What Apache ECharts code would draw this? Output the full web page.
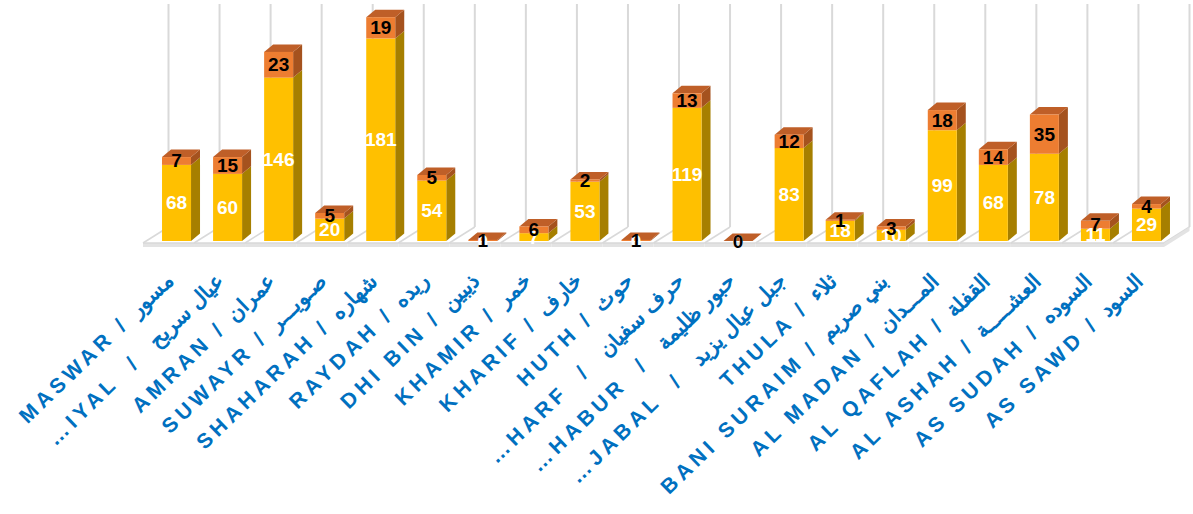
<!DOCTYPE html>
<html><head><meta charset="utf-8">
<script src="https://cdn.jsdelivr.net/npm/echarts@6/dist/echarts.min.js"></script>
<style>
html,body{margin:0;padding:0;background:#fff}
#c{width:1193px;height:514px}
#c svg text[fill="#0070C0"], #c svg text[fill="#0070c0"], #c svg text[style*="21px"]{letter-spacing:4.5px}
</style>
</head><body><div id="c"></div>
<script>
const categories = [
  "MASWAR / مسور",
  "…IYAL  /  عيال سريح",
  "AMRAN / عمران",
  "SUWAYR / صـويـــر",
  "SHAHARAH / شهاره",
  "RAYDAH / ريده",
  "DHI BIN / ذيبين",
  "KHAMIR / خمر",
  "KHARIF / خارف",
  "HUTH / حوث",
  "…HARF  /  حرف سفيان",
  "…HABUR  /  حبور ظليمة",
  "…JABAL  /  جبل عيال يزيد",
  "THULA / ثلاء",
  "BANI SURAIM / بني صريم",
  "AL MADAN / المـــدان",
  "AL QAFLAH / القفلة",
  "AL ASHAH / العشـــــة",
  "AS SUDAH / السوده",
  "AS SAWD / السود"
];
const yellowValues = [68, 60, 146, 20, 181, 54, 0, 7, 53, 0, 119, 0, 83, 18, 10, 99, 68, 78, 11, 29];
const orangeValues = [7, 15, 23, 5, 19, 5, 1, 6, 2, 1, 13, 0, 12, 1, 3, 18, 14, 35, 7, 4];

const BW = 29, DX = 9, DY = -7.5;
const C = {
  yFront: '#FFC000', ySide: '#A67F00',
  oFront: '#ED7D31', oSide: '#A5521E', oTop: '#BF5F28',
  grid: '#D9D9D9', floorEdge: '#E3E3E3'
};
const chart = echarts.init(document.getElementById('c'), null, {renderer: 'svg'});
const idx = categories.map((_, i) => i);

function renderFloor(params, api) {
  const i = api.value(0);
  const w = api.size([1, 0])[0];
  const c = api.coord([i, 0]);
  const top = params.coordSys.y - 2;
  const children = [];
  const bounds = [c[0] - w / 2];
  if (i === categories.length - 1) bounds.push(c[0] + w / 2);
  const y0 = c[1];
  const xl = c[0] - w / 2, xr = c[0] + w / 2;
  children.push({type: 'polygon', shape: {points: [[xl - 8, y0 + 2], [xr - 8, y0 + 2], [xr + 17.5, y0 - 14], [xl + 17.5, y0 - 14]]}, style: {fill: '#fff'}});
  children.push({type: 'polygon', shape: {points: [[xl - 8, y0 + 2], [xr - 8, y0 + 2], [xr - 8, y0 + 6], [xl - 8, y0 + 6]]}, style: {fill: C.floorEdge}});
  children.push({type: 'line', shape: {x1: xl - 8, y1: y0 + 2, x2: xr - 8, y2: y0 + 2}, style: {stroke: C.grid, lineWidth: 1.5}});
  bounds.forEach(x => {
    children.push({type: 'line', shape: {x1: x + 17.5, y1: y0 - 14, x2: x + 17.5, y2: top}, style: {stroke: C.grid, lineWidth: 2}});
    children.push({type: 'line', shape: {x1: x - 8, y1: y0 + 2, x2: x + 17.5, y2: y0 - 14}, style: {stroke: C.grid, lineWidth: 1.5}});
  });
  if (i === categories.length - 1) {
    children.push({type: 'polygon', shape: {points: [[xr - 8, y0 + 2], [xr + 17.5, y0 - 14], [xr + 17.5, y0 - 10], [xr - 8, y0 + 6]]}, style: {fill: C.floorEdge}});
  }
  return {type: 'group', children};
}

function render3D(params, api) {
  const i = api.value(0);
  const yv = api.value(1), ov = api.value(2);
  const c = api.coord([i, 0]);
  const x0 = c[0] - BW / 2, x1 = c[0] + BW / 2;
  const yb = c[1];
  const ym = api.coord([i, yv])[1];
  const yt = api.coord([i, yv + ov])[1];
  return {type: 'group', children: [
    {type: 'polygon', shape: {points: [[x1, yb], [x1 + DX, yb + DY], [x1 + DX, ym + DY], [x1, ym]]}, style: {fill: C.ySide}},
    {type: 'polygon', shape: {points: [[x1, ym], [x1 + DX, ym + DY], [x1 + DX, yt + DY], [x1, yt]]}, style: {fill: C.oSide}},
    {type: 'polygon', shape: {points: [[x0, yt], [x0 + DX, yt + DY], [x1 + DX, yt + DY], [x1, yt]]}, style: {fill: C.oTop}}
  ]};
}

const labelFont = "'Liberation Sans Narrow', 'Liberation Sans', Arial, sans-serif";
chart.setOption({
  animation: false,
  backgroundColor: '#fff',
  grid: {left: 151, right: 21, top: 6, bottom: 273, containLabel: false},
  xAxis: {
    type: 'category', data: categories,
    axisLine: {show: false}, axisTick: {show: false}, splitLine: {show: false},
    axisLabel: {interval: 0, rotate: 44, margin: 29, padding: [0, 10, 0, 0], color: '#0070C0', fontWeight: 'bold', fontSize: 21, fontFamily: "'Liberation Sans', Arial, sans-serif"}
  },
  yAxis: {type: 'value', min: 0, max: 210, show: false, splitLine: {show: false}},
  series: [
    {type: 'custom', z: 0, silent: true, renderItem: renderFloor, data: idx.map(i => [i]), encode: {x: 0}},
    {type: 'custom', z: 1, silent: true, renderItem: render3D, data: idx.map(i => [i, yellowValues[i], orangeValues[i]]), encode: {x: 0, y: [1, 2]}},
    {type: 'bar', z: 2, stack: 't', barWidth: BW, data: yellowValues, itemStyle: {color: C.yFront},
      label: {show: true, position: 'inside', color: '#fff', fontWeight: 'bold', fontSize: 19, fontFamily: labelFont}},
    {type: 'bar', z: 2, stack: 't', barWidth: BW, data: orangeValues, itemStyle: {color: C.oFront},
      label: {show: true, position: 'inside', color: '#000', fontWeight: 'bold', fontSize: 19, fontFamily: labelFont}}
  ]
});
</script></body></html>
